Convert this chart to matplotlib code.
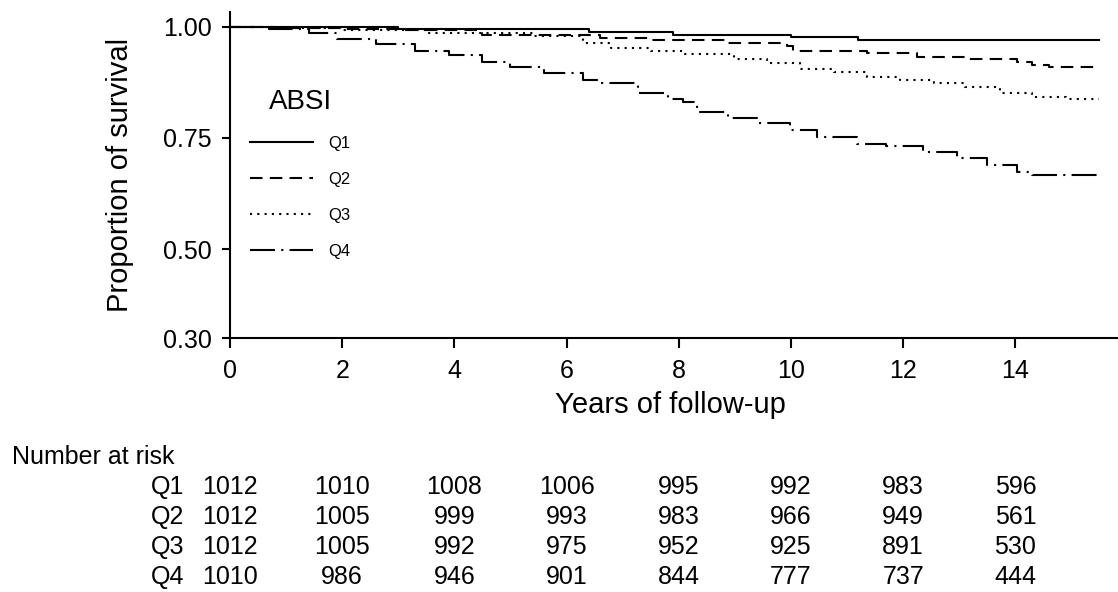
import matplotlib.pyplot as plt
from matplotlib.transforms import blended_transform_factory

plt.rcParams['font.family'] = ['Liberation Sans', 'DejaVu Sans']

# survival steps (time in years, proportion surviving)
q1_t = [0, 3.0, 6.4, 7.9, 10.0, 11.2, 15.5]
q1_s = [1.0, 0.994, 0.988, 0.982, 0.976, 0.970, 0.970]

q2_t = [0, 0.8, 2.0, 3.0, 4.5, 6.6, 7.5, 8.87, 9.93, 10.04, 11.36, 12.25, 13.1, 14.03, 14.3, 14.6, 15.5]
q2_s = [1.0, 0.998, 0.995, 0.992, 0.981, 0.975, 0.969, 0.963, 0.957, 0.945, 0.940, 0.933, 0.927, 0.921, 0.914, 0.909, 0.909]

q3_t = [0, 1.0, 2.0, 3.5, 5.4, 6.3, 6.79, 7.5, 8.08, 8.98, 9.58, 10.17, 10.76, 11.36, 11.95, 12.55, 13.1, 13.72, 14.3, 14.9, 15.5]
q3_s = [1.0, 0.997, 0.993, 0.986, 0.978, 0.964, 0.952, 0.945, 0.939, 0.927, 0.918, 0.906, 0.899, 0.888, 0.880, 0.873, 0.865, 0.850, 0.843, 0.838, 0.838]

q4_t = [0, 0.7, 1.4, 1.9, 2.6, 3.3, 3.9, 4.5, 5.0, 5.6, 6.3, 6.6, 7.27, 7.8, 8.08, 8.33, 8.87, 9.4, 9.99,
        10.47, 11.18, 11.7, 12.35, 12.96, 13.5, 14.03, 14.3, 15.5]
q4_s = [1.0, 0.995, 0.986, 0.973, 0.961, 0.946, 0.937, 0.921, 0.910, 0.897, 0.881, 0.873, 0.851, 0.838, 0.831, 0.809,
        0.796, 0.784, 0.768, 0.753, 0.736, 0.732, 0.719, 0.706, 0.689, 0.674, 0.667, 0.667]

groups = ['Q1', 'Q2', 'Q3', 'Q4']
risk_times = [0, 2, 4, 6, 8, 10, 12, 14]
at_risk = [
    [1012, 1010, 1008, 1006, 995, 992, 983, 596],
    [1012, 1005, 999, 993, 983, 966, 949, 561],
    [1012, 1005, 992, 975, 952, 925, 891, 530],
    [1010, 986, 946, 901, 844, 777, 737, 444],
]

W, H = 1118, 592
fig = plt.figure(figsize=(W / 100, H / 100), dpi=100)
ax = fig.add_axes([230 / W, 1 - 338.3 / H, 1 - 230 / W, (338.3 - 12) / H])

lw = 1.5
ax.plot(q1_t, q1_s, drawstyle='steps-post', color='black', lw=lw, linestyle='-', label='Q1')
ax.plot(q2_t, q2_s, drawstyle='steps-post', color='black', lw=lw, linestyle=(0, (6, 3.5)), label='Q2')
ax.plot(q3_t, q3_s, drawstyle='steps-post', color='black', lw=lw, linestyle=(0, (1, 2.5)), label='Q3')
ax.plot(q4_t, q4_s, drawstyle='steps-post', color='black', lw=lw, linestyle=(0, (12, 3, 1, 3)), label='Q4')

ax.set_xlim(0, 15.83)
ax.set_ylim(0.30, 1.033)
ax.set_xticks([0, 2, 4, 6, 8, 10, 12, 14])
ax.set_yticks([0.30, 0.50, 0.75, 1.00])
ax.set_yticklabels(['0.30', '0.50', '0.75', '1.00'])
ax.spines['top'].set_visible(False)
ax.spines['right'].set_visible(False)
for s in ['left', 'bottom']:
    ax.spines[s].set_linewidth(1.5)
ax.tick_params(axis='x', direction='out', length=7, width=1.5, labelsize=18, pad=8)
ax.tick_params(axis='y', direction='out', length=6, width=1.5, labelsize=18, pad=7)

fig.text(120 / W, 1 - 175 / H, 'Proportion of survival', fontsize=21, rotation=90, ha='center', va='center')
fig.text(670 / W, 1 - 405 / H, 'Years of follow-up', fontsize=21, ha='center', va='center')

ax.legend(title='ABSI', loc='upper left', bbox_to_anchor=(20 / 888, 0.763), frameon=False,
          borderpad=0, borderaxespad=0, fontsize=12, title_fontsize=20,
          handlelength=3.8, labelspacing=1.25, handletextpad=0.9)

# number at risk table
tr = blended_transform_factory(ax.transData, fig.transFigure)
fig.text(12 / W, 1 - 457 / H, 'Number at risk', fontsize=18, va='center', ha='left')
row_y = [487, 517, 547, 577]
for g, row, yy in zip(groups, at_risk, row_y):
    fig.text(184 / W, 1 - yy / H, g, fontsize=18, va='center', ha='right')
    for t, n in zip(risk_times, row):
        ax.text(t, 1 - yy / H, str(n), transform=tr, fontsize=18, va='center', ha='center', clip_on=False)

fig.savefig('out.png', dpi=100)
